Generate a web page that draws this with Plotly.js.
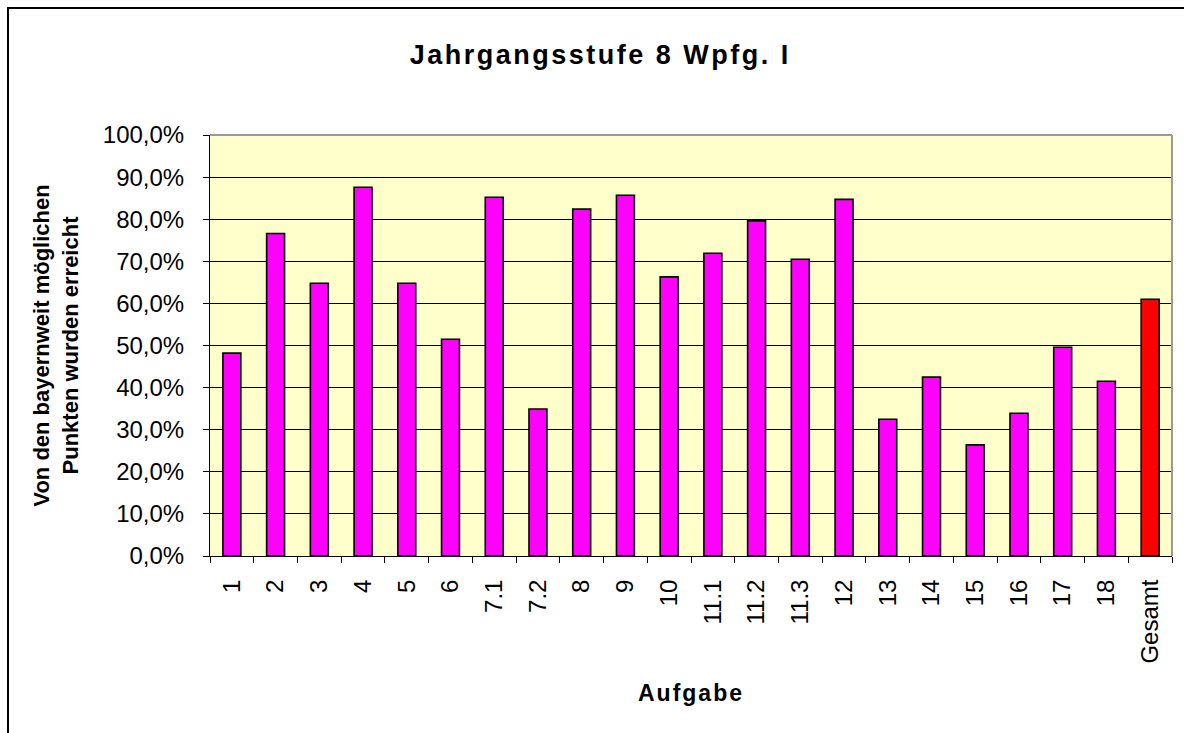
<!DOCTYPE html>
<html>
<head>
<meta charset="utf-8">
<script src="https://cdn.plot.ly/plotly-3.0.1.min.js"></script>
<style>
  html, body { margin: 0; padding: 0; background: #fff; overflow: hidden; }
  #chart { position: absolute; left: 0; top: 0; width: 1184px; height: 733px; }
  #frame { position: absolute; left: 7px; top: 7px; width: 1300px; height: 900px;
           border-left: 2px solid #000; border-top: 2px solid #000; pointer-events: none; }
  #chart .gtitle { letter-spacing: 2.5px; }
  #chart .xtitle { letter-spacing: 2px; }
</style>
</head>
<body>
<div id="chart"></div>
<div id="frame"></div>
<script>
const categories = ["1","2","3","4","5","6","7.1","7.2","8","9","10","11.1","11.2","11.3","12","13","14","15","16","17","18","Gesamt"];
const values = [48.2, 76.6, 64.8, 87.6, 64.8, 51.5, 85.2, 34.9, 82.4, 85.7, 66.3, 71.9, 79.6, 70.5, 84.7, 32.5, 42.5, 26.4, 33.9, 49.6, 41.5, 61.0];
const barColors = categories.map(c => c === "Gesamt" ? "#FF0000" : "#FF00FF");
const yTickValues = [0,10,20,30,40,50,60,70,80,90,100];
const yTickLabels = yTickValues.map(v => v.toFixed(1).replace(".", ",") + "%");

const font = "Liberation Sans, Arial, sans-serif";

const trace = {
  type: "bar",
  x: categories,
  y: values,
  marker: { color: barColors, line: { color: "#000", width: 1.6 } },
  hoverinfo: "x+y"
};

const layout = {
  width: 1184, height: 733,
  margin: { l: 210, r: 12, t: 135, b: 177 },
  paper_bgcolor: "#FFFFFF",
  plot_bgcolor: "#FFFFCC",
  bargap: 0.59,
  showlegend: false,
  font: { family: font, color: "#000", size: 24 },
  title: {
    text: "<b>Jahrgangsstufe 8 Wpfg. I</b>",
    font: { family: font, size: 27, color: "#000" },
    x: 0.507, xanchor: "center", y: 0.925, yanchor: "middle"
  },
  xaxis: {
    type: "category",
    tickangle: -90,
    tickson: "boundaries",
    ticks: "outside", ticklen: 6, tickcolor: "#000", tickwidth: 1,
    ticklabelstandoff: 13,
    showline: true, linecolor: "#000", linewidth: 1,
    showgrid: false,
    tickfont: { family: font, size: 24, color: "#000" },
    title: { text: "<b>Aufgabe</b>", font: { family: font, size: 23, color: "#000" }, standoff: 22 },
    automargin: false
  },
  yaxis: {
    range: [0, 100],
    tickmode: "array",
    tickvals: yTickValues,
    ticktext: yTickLabels,
    ticks: "outside", ticklen: 6, tickcolor: "#000", tickwidth: 1,
    ticklabelstandoff: 14,
    showline: true, linecolor: "#000", linewidth: 1,
    showgrid: true, gridcolor: "#000", gridwidth: 1,
    zeroline: false,
    tickfont: { family: font, size: 24, color: "#000" },
    title: { text: "<b>Von den bayernweit möglichen<br>Punkten wurden erreicht</b>", font: { family: font, size: 22, color: "#000" }, standoff: 18 },
    automargin: false
  },
  shapes: [
    { type: "line", xref: "paper", yref: "paper", x0: 0, x1: 1, y0: 1, y1: 1, line: { color: "#999", width: 2 } },
    { type: "line", xref: "paper", yref: "paper", x0: 1, x1: 1, y0: 0, y1: 1, line: { color: "#999", width: 2 } }
  ]
};

Plotly.newPlot("chart", [trace], layout, { displayModeBar: false, staticPlot: true });
</script>
</body>
</html>
